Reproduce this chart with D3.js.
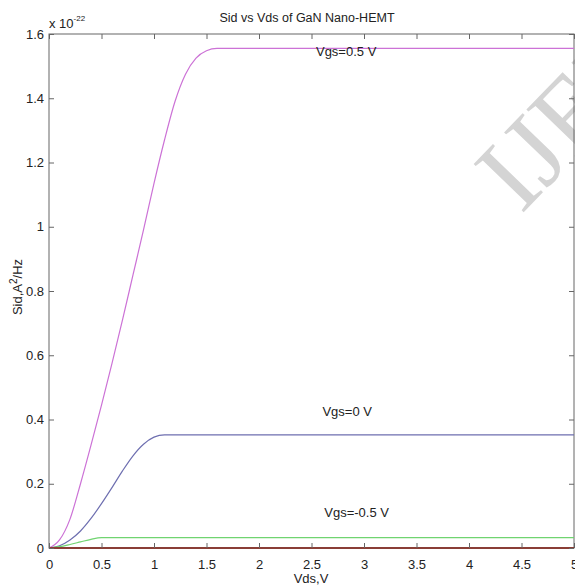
<!DOCTYPE html>
<meta charset="utf-8">
<style>
 body { margin: 0; background: #fff; }
 text { font-family: "Liberation Sans", Arial, sans-serif; fill: #222; }
</style>
<script src="https://d3js.org/d3.v7.min.js"></script>
<svg width="575" height="587"></svg>
<script>
const svg = d3.select('svg');

// Vds (V) and Sid (x 1e-22 A^2/Hz)
const vds     = [0, 0.1, 0.2, 0.3, 0.4, 0.5, 0.6, 0.7, 0.8, 0.9, 1.0, 1.1, 1.2, 1.3, 1.4, 1.5, 1.6, 2, 3, 4, 5];
const vgsP05  = [0, 0.025, 0.09, 0.20, 0.32, 0.445, 0.575, 0.71, 0.85, 0.99, 1.135, 1.27, 1.39, 1.475, 1.525, 1.548, 1.555, 1.555, 1.555, 1.555, 1.555];
const vgs0    = [0, 0.007, 0.025, 0.053, 0.092, 0.138, 0.188, 0.24, 0.287, 0.323, 0.345, 0.352, 0.352, 0.352, 0.352, 0.352, 0.352, 0.352, 0.352, 0.352, 0.352];
const vgsM05  = [0, 0.004, 0.011, 0.019, 0.027, 0.032, 0.032, 0.032, 0.032, 0.032, 0.032, 0.032, 0.032, 0.032, 0.032, 0.032, 0.032, 0.032, 0.032, 0.032, 0.032];
const vgsM1   = [0, 0, 0, 0, 0, 0, 0, 0, 0, 0, 0, 0, 0, 0, 0, 0, 0, 0, 0, 0, 0];

const xTicks = [0, 0.5, 1, 1.5, 2, 2.5, 3, 3.5, 4, 4.5, 5];
const yTicks = [0, 0.2, 0.4, 0.6, 0.8, 1, 1.2, 1.4, 1.6];

const series = [
  { vals: vgsP05, color: '#cc72d6', label: 'Vgs=0.5 V', lx: 2.83, ly: 1.53 },
  { vals: vgs0,   color: '#6e6fb0', label: 'Vgs=0 V', lx: 2.84, ly: 0.41 },
  { vals: vgsM05, color: '#70d470', label: 'Vgs=-0.5 V', lx: 2.93, ly: 0.097 },
  { vals: vgsM1,  color: '#8a3e36', label: null }
];

const pLeft = 49, pRight = 574, pTop = 34, pBottom = 548;
const x = d3.scaleLinear().domain([0, 5]).range([pLeft, pRight]);
const y = d3.scaleLinear().domain([0, 1.6]).range([pBottom, pTop]);

// watermark
svg.append('text')
  .attr('transform', 'translate(521,215) rotate(-46)')
  .style('font-size', '106px')
  .style('font-family', '"Liberation Serif", "DejaVu Serif", serif')
  .style('fill', '#d4d4d4')
  .text('IJERT');

// box
svg.append('rect')
  .attr('x', pLeft).attr('y', pTop)
  .attr('width', pRight - pLeft).attr('height', pBottom - pTop)
  .attr('fill', 'none').attr('stroke', '#666').attr('stroke-width', 1);

const line = d3.line()
  .x((d, i) => x(vds[i]))
  .y(d => y(d))
  .curve(d3.curveMonotoneX);

series.forEach(s => {
  svg.append('path')
    .attr('d', line(s.vals))
    .attr('fill', 'none')
    .attr('stroke', s.color)
    .attr('stroke-width', s.label ? 1.2 : 2);
});

// axes with inward ticks
const xb = svg.append('g').attr('transform', `translate(0,${pBottom})`)
  .call(d3.axisBottom(x).tickValues(xTicks).tickSizeInner(-5).tickSizeOuter(0).tickPadding(9).tickFormat(d3.format('')));
const xt = svg.append('g').attr('transform', `translate(0,${pTop})`)
  .call(d3.axisTop(x).tickValues(xTicks).tickSizeInner(-5).tickSizeOuter(0).tickFormat(''));
const yl = svg.append('g').attr('transform', `translate(${pLeft},0)`)
  .call(d3.axisLeft(y).tickValues(yTicks).tickSizeInner(-5).tickSizeOuter(0).tickPadding(9).tickFormat(d3.format('')));
const yr = svg.append('g').attr('transform', `translate(${pRight},0)`)
  .call(d3.axisRight(y).tickValues(yTicks).tickSizeInner(-5).tickSizeOuter(0).tickFormat(''));

[xb, xt, yl, yr].forEach(g => {
  g.select('.domain').remove();
  g.selectAll('line').attr('stroke', '#666');
  g.selectAll('text').style('font-size', '13px').style('font-family', '"Liberation Sans", Arial, sans-serif').attr('fill', '#222');
});
xb.selectAll('text').attr('dy', '0.9em');
yl.selectAll('text').attr('dx', '4px');

// curve labels
series.filter(s => s.label).forEach(s => {
  svg.append('text')
    .attr('x', x(s.lx)).attr('y', y(s.ly))
    .style('font-size', '13px')
    .attr('text-anchor', 'middle')
    .text(s.label);
});

// title and axis labels
svg.append('text').attr('x', 307).attr('y', 22)
  .attr('text-anchor', 'middle').style('font-size', '12.5px')
  .text('Sid vs Vds of GaN Nano-HEMT');

svg.append('text').attr('x', 311).attr('y', 583)
  .attr('text-anchor', 'middle').style('font-size', '13px')
  .text('Vds,V');

const yLab = svg.append('text')
  .attr('transform', 'translate(22,287) rotate(-90)')
  .attr('text-anchor', 'middle').style('font-size', '13px');
yLab.append('tspan').text('Sid,A');
yLab.append('tspan').attr('dy', -5).style('font-size', '10px').text('2');
yLab.append('tspan').attr('dy', 5).text('/Hz');

const expo = svg.append('text').attr('x', 49).attr('y', 28).style('font-size', '13px');
expo.append('tspan').text('x 10');
expo.append('tspan').attr('dy', -7).style('font-size', '8px').text('-22');
</script>
